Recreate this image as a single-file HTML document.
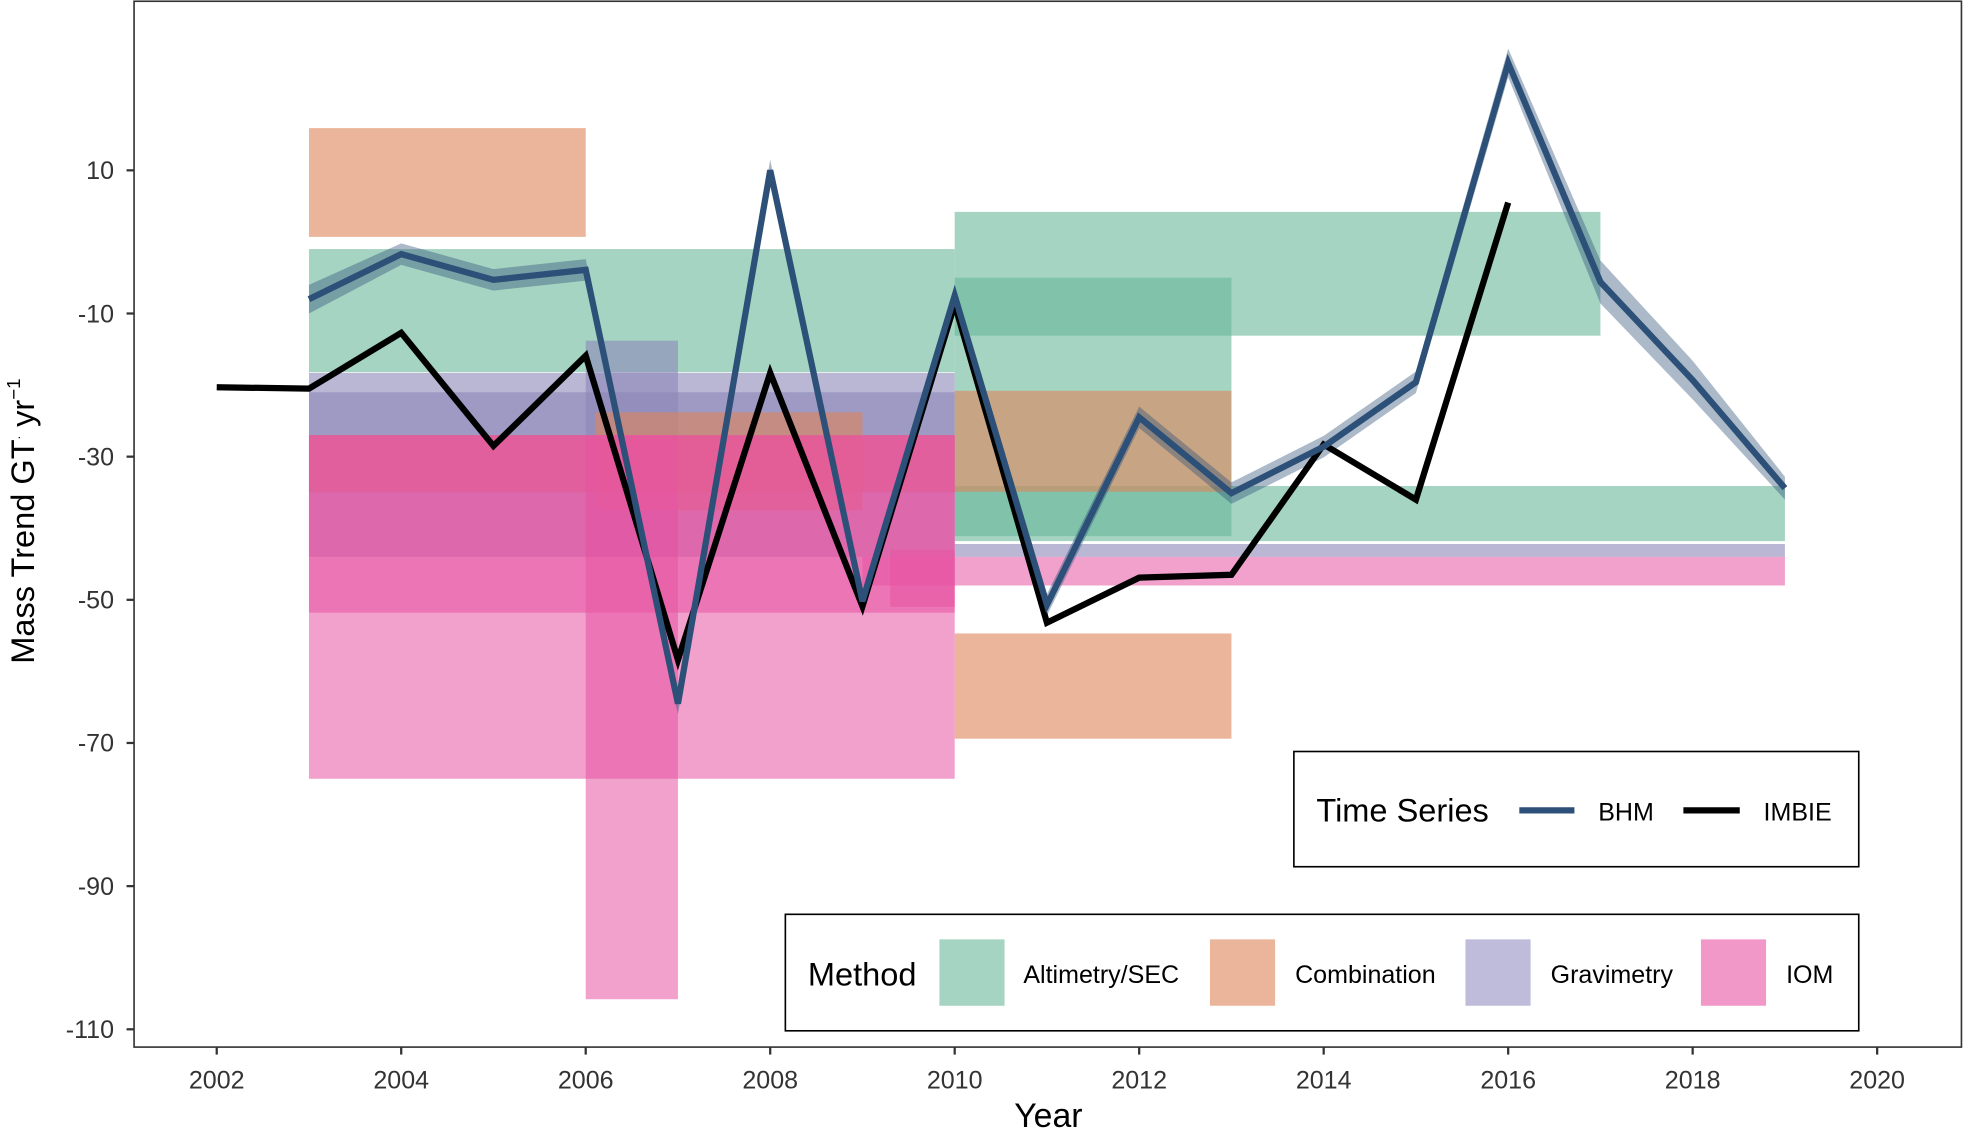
<!DOCTYPE html>
<html><head><meta charset="utf-8"><style>
html,body{margin:0;padding:0;background:#fff}
svg{display:block}
text{font-family:"Liberation Sans",Arial,sans-serif}
</style></head><body>
<svg id="chart" width="1964" height="1131" viewBox="0 0 1568 903" xmlns="http://www.w3.org/2000/svg">
<rect x="0" y="0" width="1568" height="903" fill="#fff"/>
<g id="rects"></g>
<g id="bands"></g>
<g id="lines"></g>
<rect x="107" y="1" width="1459" height="835" fill="none" stroke="#333" stroke-width="1.3"/>
<g id="axes"></g>
<text x="837" y="900" font-size="27" text-anchor="middle" fill="#000">Year</text>
<text transform="translate(27,416) rotate(-90)" font-size="26" text-anchor="middle" fill="#000">Mass Trend GT<tspan font-size="10" dy="-11">.</tspan><tspan dy="11"> yr</tspan><tspan font-size="15" dy="-11">−1</tspan></text>
<g>
<rect x="1033" y="600" width="451" height="92" fill="#fff" stroke="#000" stroke-width="1.3"/>
<text x="1051" y="656" font-size="26" fill="#000">Time Series</text>
<line x1="1213" y1="647" x2="1257" y2="647" stroke="#2c5077" stroke-width="5"/>
<text x="1276" y="655" font-size="20" fill="#000">BHM</text>
<line x1="1344" y1="647" x2="1389" y2="647" stroke="#000" stroke-width="5"/>
<text x="1408" y="655" font-size="20" fill="#000">IMBIE</text>
</g>
<g>
<rect x="627" y="730" width="857" height="93" fill="#fff" stroke="#000" stroke-width="1.3"/>
<text x="645" y="787" font-size="26" fill="#000">Method</text>
<rect x="750" y="750" width="52" height="53" fill="#a5d4c2"/>
<text x="817" y="785" font-size="20" fill="#000">Altimetry/SEC</text>
<rect x="966" y="750" width="52" height="53" fill="#ebb59b"/>
<text x="1034" y="785" font-size="20" fill="#000">Combination</text>
<rect x="1170" y="750" width="52" height="53" fill="#bfbcdb"/>
<text x="1238" y="785" font-size="20" fill="#000">Gravimetry</text>
<rect x="1358" y="750" width="52" height="53" fill="#f198c8"/>
<text x="1426" y="785" font-size="20" fill="#000">IOM</text>
</g>
</svg>
<script>
const bhmYears=[2003,2004,2005,2006,2007,2008,2009,2010,2011,2012,2013,2014,2015,2016,2017,2018,2019];
const bhmValues=[-8,-1.7,-5.3,-3.9,-64.5,10,-50.2,-7.5,-50.7,-24.5,-35.1,-28.6,-19.6,25,-5.6,-19.3,-34.4];
const bhmLower=[-10,-3.2,-6.8,-5.4,-66,8.5,-51.7,-9,-52.2,-26,-36.6,-30.1,-21.1,23,-8.6,-22,-36];
const bhmUpper=[-6,-0.2,-3.8,-2.4,-63,11.5,-48.7,-6,-49.2,-23,-33.6,-27.1,-18.1,27,-2.6,-16.6,-32.8];
const imbieYears=[2002,2003,2004,2005,2006,2007,2008,2009,2010,2011,2012,2013,2014,2015,2016];
const imbieValues=[-20.3,-20.5,-12.7,-28.5,-15.9,-58.4,-18.3,-50.9,-8.7,-53.2,-46.9,-46.5,-28.3,-36,5.5];
const rectMethods=["Combination","Altimetry","Altimetry","Altimetry","Altimetry","Gravimetry","Gravimetry","Gravimetry","Gravimetry","Combination","Combination","Combination","Combination","IOM","IOM","IOM","IOM","IOM"];
const rectStart=[2003,2003,2010,2010,2010,2003,2006,2003,2010,2006.1,2010,2010,2003,2003,2003,2006,2009,2009.3];
const rectEnd=[2006,2010,2017,2013,2019,2010,2007,2010,2019,2009,2013,2013,2010,2010,2010,2007,2019,2010];
const rectLow=[0.7,-18.2,-13.1,-41.1,-41.8,-44,-44,-35,-44,-37.5,-34.9,-69.4,-34.9,-75,-51.8,-105.8,-48,-51];
const rectHigh=[15.9,-1,4.2,-5,-34.1,-18.3,-13.8,-21,-42.2,-23.8,-20.8,-54.7,-27,-27,-27,-27,-44,-43];
const xTicks=[2002,2004,2006,2008,2010,2012,2014,2016,2018,2020];
const yTicks=[10,-10,-30,-50,-70,-90,-110];

const NS="http://www.w3.org/2000/svg";
const X=t=>173+(t-2002)*73.65;
const Y=v=>136+(10-v)*5.715;
const fills={Altimetry:"#69b799",Combination:"#de8458",Gravimetry:"#8c87b8",IOM:"#e853a3"};
const alphas={Altimetry:0.6,Combination:0.6,Gravimetry:0.6,IOM:0.55};
function mk(tag,parent,attrs){const e=document.createElementNS(NS,tag);for(const k in attrs)e.setAttribute(k,attrs[k]);parent.appendChild(e);return e;}
const gR=document.getElementById('rects');
rectMethods.forEach((m,i)=>{
  const r=mk('rect',gR,{x:X(rectStart[i]),y:Y(rectHigh[i]),width:X(rectEnd[i])-X(rectStart[i]),height:Y(rectLow[i])-Y(rectHigh[i]),fill:fills[m],'fill-opacity':alphas[m]});
  
  
});
const gB=document.getElementById('bands');
let pts=bhmYears.map((t,i)=>X(t)+','+Y(bhmUpper[i]));
pts=pts.concat(bhmYears.map((t,i)=>X(t)+','+Y(bhmLower[i])).reverse());
const band=mk('polygon',gB,{points:pts.join(' '),fill:'#2c5077','fill-opacity':0.4});


const gL=document.getElementById('lines');
const li=mk('polyline',gL,{points:imbieYears.map((t,i)=>X(t)+','+Y(imbieValues[i])).join(' '),fill:'none',stroke:'#000','stroke-width':5,'stroke-linejoin':'miter'});


const lb=mk('polyline',gL,{points:bhmYears.map((t,i)=>X(t)+','+Y(bhmValues[i])).join(' '),fill:'none',stroke:'#2c5077','stroke-width':5,'stroke-linejoin':'miter'});


const gA=document.getElementById('axes');
xTicks.forEach(t=>{
  const tk=mk('line',gA,{x1:X(t),x2:X(t),y1:836,y2:842,stroke:'#333','stroke-width':1.8});
  
  
  const tx=mk('text',gA,{x:X(t),y:869,'font-size':20,'text-anchor':'middle',fill:'#333'});
  tx.textContent=t;
  
  
});
yTicks.forEach(v=>{
  const tk=mk('line',gA,{x1:101,x2:107,y1:Y(v),y2:Y(v),stroke:'#333','stroke-width':1.8});
  
  
  const tx=mk('text',gA,{x:91,y:Y(v)+7,'font-size':20,'text-anchor':'end',fill:'#333'});
  tx.textContent=v;
  
  
});
</script>
</body></html>
